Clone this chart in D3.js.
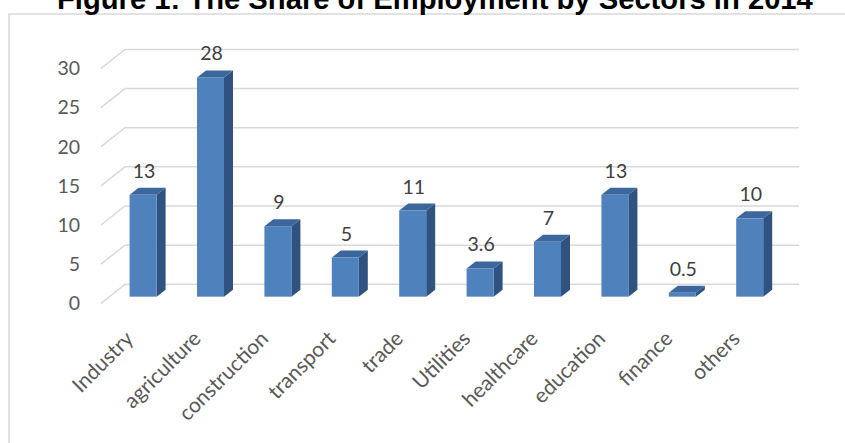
<!DOCTYPE html>
<html><head><meta charset="utf-8">
<script src="https://cdn.jsdelivr.net/npm/d3@7"></script>
<style>body{margin:0;background:#fff;}svg{display:block;}</style>
</head><body>
<svg id="c" width="845" height="443"></svg>
<script>
const title = "Figure 1: The Share of Employment by Sectors in 2014";
const categories = ["Industry","agriculture","construction","transport","trade","Utilities","healthcare","education","finance","others"];
const values = [13, 28, 9, 5, 11, 3.6, 7, 13, 0.5, 10];
const yTicks = [0, 5, 10, 15, 20, 25, 30];

const svg = d3.select("#c");
// geometry
const backLeft = 125, backRight = 799;
const depthDX = -24, depthDY = 19;      // back wall -> front of floor
const barZ = 0.65;                        // bar front depth fraction
const barW = 27, barDX = 9, barDY = 7;    // bar face width and side depth

const x = d3.scaleBand().domain(categories).range([backLeft, backRight]);
const y = d3.scaleLinear().domain([0, 30]).range([284.3, 49.4]);

// frame
svg.append("rect").attr("x", 9).attr("y", 14).attr("width", 900).attr("height", 500)
  .attr("fill", "none").attr("stroke", "#d9d9d9").attr("stroke-width", 1.5);

// title
const t = svg.append("text").text(title)
  .attr("x", 57).attr("y", 9)
  .attr("font-family", "Liberation Sans, Arial, sans-serif")
  .attr("font-weight", "bold").attr("font-size", 29).attr("fill", "#000");
const tl = t.node().getComputedTextLength();
t.attr("font-size", 29 * 756 / tl);

// gridlines
const g = svg.append("g");
yTicks.forEach(v => {
  g.append("path")
    .attr("d", `M${backLeft + depthDX},${y(v) + depthDY}L${backLeft},${y(v)}L${backRight},${y(v)}`)
    .attr("fill", "none").attr("stroke", "#d9d9d9").attr("stroke-width", 1.5);
  g.append("text").text(v)
    .attr("x", 80).attr("y", y(v) + depthDY)
    .attr("dy", "0.35em").attr("text-anchor", "end")
    .attr("font-family", "Lato, sans-serif").attr("font-size", 19.5).attr("fill", "#595959");
});

// bars
const bars = svg.append("g");
const fx = c => x(c) + x.bandwidth() / 2 + depthDX * barZ;
const by0 = y(0) + depthDY * barZ;
const byv = v => y(v) + depthDY * barZ;
categories.forEach((c, i) => {
  const v = values[i];
  const cx = fx(c);
  const l = cx - barW / 2, r = cx + barW / 2;
  const top = byv(v), bot = by0;
  // side
  bars.append("path")
    .attr("d", `M${r},${bot}L${r + barDX},${bot - barDY}L${r + barDX},${top - barDY}L${r},${top}Z`)
    .attr("fill", "#2f5281");
  // top
  bars.append("path")
    .attr("d", `M${l},${top}L${l + barDX},${top - barDY}L${r + barDX},${top - barDY}L${r},${top}Z`)
    .attr("fill", "#3b679c");
  // front
  bars.append("rect").attr("x", l).attr("y", top).attr("width", barW).attr("height", bot - top)
    .attr("fill", "#4f81bd");
  // value label
  bars.append("text").text(v)
    .attr("x", cx + 1).attr("y", top - 17)
    .attr("text-anchor", "middle")
    .attr("font-family", "Lato, sans-serif").attr("font-size", 19.5).attr("fill", "#404040");
  // category label
  const ax = x(c) + x.bandwidth() / 2 + depthDX, ay = 340;
  bars.append("text").text(c)
    .attr("transform", `translate(${ax},${ay}) rotate(-45)`)
    .attr("text-anchor", "end")
    .attr("font-family", "Lato, sans-serif").attr("font-size", 21).attr("fill", "#595959");
});
</script>
</body></html>
